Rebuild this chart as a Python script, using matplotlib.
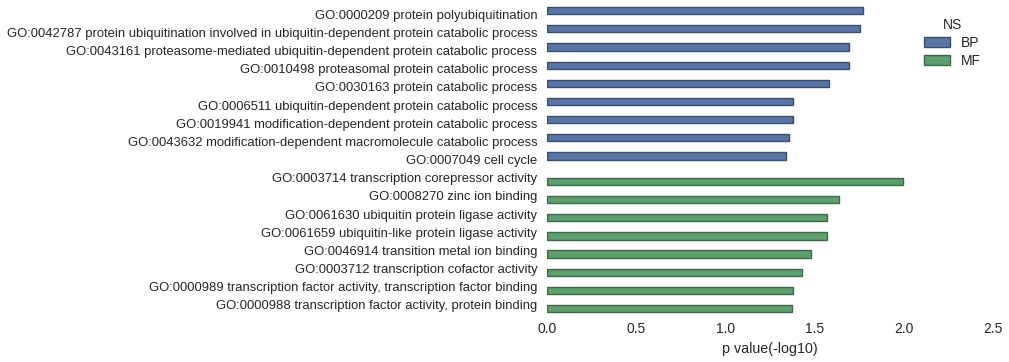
import matplotlib
matplotlib.use("Agg")
import matplotlib.pyplot as plt
import seaborn as sns
import numpy as np

# GO terms (top to bottom) and their -log10 p values
bp_terms = [
    "GO:0000209 protein polyubiquitination",
    "GO:0042787 protein ubiquitination involved in ubiquitin-dependent protein catabolic process",
    "GO:0043161 proteasome-mediated ubiquitin-dependent protein catabolic process",
    "GO:0010498 proteasomal protein catabolic process",
    "GO:0030163 protein catabolic process",
    "GO:0006511 ubiquitin-dependent protein catabolic process",
    "GO:0019941 modification-dependent protein catabolic process",
    "GO:0043632 modification-dependent macromolecule catabolic process",
    "GO:0007049 cell cycle",
]
bp_values = [1.77, 1.755, 1.693, 1.693, 1.579, 1.379, 1.379, 1.36, 1.34]

mf_terms = [
    "GO:0003714 transcription corepressor activity",
    "GO:0008270 zinc ion binding",
    "GO:0061630 ubiquitin protein ligase activity",
    "GO:0061659 ubiquitin-like protein ligase activity",
    "GO:0046914 transition metal ion binding",
    "GO:0003712 transcription cofactor activity",
    "GO:0000989 transcription factor activity, transcription factor binding",
    "GO:0000988 transcription factor activity, protein binding",
]
mf_values = [1.999, 1.637, 1.573, 1.573, 1.478, 1.429, 1.379, 1.372]

sns.set_style("white")
plt.rcParams['font.family'] = ['Liberation Sans', 'DejaVu Sans']

bp_color = sns.desaturate("#4C72B0", 0.75)
mf_color = sns.desaturate("#55A868", 0.75)

fig = plt.figure(figsize=(10.09, 3.62), dpi=100)
ax = fig.add_axes([0.542, 0.1326, 0.442, 0.853])

terms = bp_terms + mf_terms
pos = np.arange(len(terms))
n_bp = len(bp_terms)

# seaborn-like hue dodge: BP sits in the upper slot, MF in the lower slot
ax.barh(pos[:n_bp] - 0.2, bp_values, height=0.4, color=bp_color,
        edgecolor="#3a4d6e", linewidth=1, label="BP")
ax.barh(pos[n_bp:] + 0.2, mf_values, height=0.4, color=mf_color,
        edgecolor="#3c6a48", linewidth=1, label="MF")

ax.set_yticks(pos)
ax.set_yticklabels(terms, fontsize=9.35)
ax.set_ylim(len(terms) - 0.5, -0.5)
ax.set_xlim(0, 2.5)
ax.set_xticks([0.0, 0.5, 1.0, 1.5, 2.0, 2.5])
ax.set_xticklabels(["0.0", "0.5", "1.0", "1.5", "2.0", "2.5"], fontsize=10)
ax.set_xlabel("p value(-log10)", fontsize=10.3)
ax.tick_params(axis="y", length=0, pad=7)
ax.tick_params(axis="x", length=0, pad=6)
for s in ax.spines.values():
    s.set_visible(False)

leg = ax.legend(title="NS", loc="upper left", frameon=False, fontsize=10,
                title_fontsize=10, bbox_to_anchor=(0.834, 0.977),
                borderaxespad=0, labelspacing=0.3, handlelength=1.85,
                handletextpad=0.75)

fig.savefig("out.png", dpi=100)
